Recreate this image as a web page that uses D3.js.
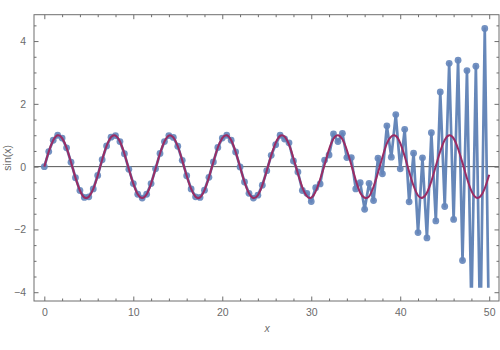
<!DOCTYPE html>
<html>
<head>
<meta charset="utf-8">
<script src="https://cdn.jsdelivr.net/npm/d3@7"></script>
<style>
  html, body { margin: 0; padding: 0; background: #fff; }
  svg { display: block; }
  .tick text { font-family: "Liberation Sans", Arial, sans-serif; font-size: 10.5px; fill: #6b6b6b; }
</style>
</head>
<body>
<svg id="chart" width="500" height="350"></svg>
<script>
// x positions of samples (step 0.5 from 0 to 50)
const xs = [0,0.5,1,1.5,2,2.5,3,3.5,4,4.5,5,5.5,6,6.5,7,7.5,8,8.5,9,9.5,
  10,10.5,11,11.5,12,12.5,13,13.5,14,14.5,15,15.5,16,16.5,17,17.5,18,18.5,19,19.5,
  20,20.5,21,21.5,22,22.5,23,23.5,24,24.5,25,25.5,26,26.5,27,27.5,28,28.5,29,29.5,
  30,30.5,31,31.5,32,32.5,33,33.5,34,34.5,35,35.5,36,36.5,37,37.5,38,38.5,39,39.5,
  40,40.5,41,41.5,42,42.5,43,43.5,44,44.5,45,45.5,46,46.5,47,47.5,48,48.5,49,49.5,50];

const sampled = [0.00,0.48,0.84,1.00,0.91,0.60,0.14,-0.35,-0.76,-0.98,
  -0.96,-0.71,-0.28,0.22,0.66,0.94,0.99,0.80,0.41,-0.08,
  -0.54,-0.88,-1.00,-0.88,-0.54,-0.07,0.42,0.80,0.99,0.93,
  0.65,0.20,-0.29,-0.71,-0.96,-0.98,-0.75,-0.34,0.15,0.61,
  0.91,1.00,0.84,0.47,-0.01,-0.49,-0.85,-1.00,-0.91,-0.59,
  -0.13,0.36,0.70,1.00,0.88,0.76,0.18,-0.17,-0.76,-0.85,
  -1.11,-0.67,-0.55,0.21,0.37,1.04,0.80,1.06,0.29,0.29,
  -0.71,-0.51,-1.36,-0.53,-1.08,0.27,-0.23,1.30,0.30,1.66,
  -0.07,1.19,-1.12,0.43,-2.10,0.28,-2.27,1.08,-1.73,2.38,
  -1.27,3.29,-1.68,3.39,-2.99,3.06,-4.6,3.20,-5.6,4.40,-5.9];

// purple reference curve sin(x), values read at the same x positions
const exact = [0.00,0.48,0.84,1.00,0.91,0.60,0.14,-0.35,-0.76,-0.98,
  -0.96,-0.71,-0.28,0.22,0.66,0.94,0.99,0.80,0.41,-0.08,
  -0.54,-0.88,-1.00,-0.88,-0.54,-0.07,0.42,0.80,0.99,0.93,
  0.65,0.20,-0.29,-0.71,-0.96,-0.98,-0.75,-0.34,0.15,0.61,
  0.91,1.00,0.84,0.47,-0.01,-0.49,-0.85,-1.00,-0.91,-0.59,
  -0.13,0.36,0.76,0.98,0.96,0.70,0.27,-0.22,-0.66,-0.94,
  -0.99,-0.79,-0.40,0.06,0.55,0.89,1.00,0.87,0.53,0.06,
  -0.43,-0.83,-0.99,-0.95,-0.64,-0.19,0.30,0.74,0.96,0.98,
  0.75,0.33,-0.16,-0.61,-0.92,-0.99,-0.83,-0.46,0.02,0.49,
  0.85,1.00,0.90,0.57,0.12,-0.37,-0.77,-0.98,-0.95,-0.69,-0.26];

const xTicks = [0,10,20,30,40,50];
const yTicks = [-4,-2,0,2,4];
const xLabel = "x";
const yLabel = "sin(x)";

const svg = d3.select("#chart");
const L = 34, R = 499, T = 14.7, B = 301;
const x = d3.scaleLinear().domain([-1.16, 51.1]).range([L, R]);
const y = d3.scaleLinear().domain([-4.28, 4.84]).range([B, T]);
const frameColor = "#6e6e6e";

const fmt = d => (d < 0 ? "\u2212" + Math.abs(d) : String(d));

// clip
svg.append("defs").append("clipPath").attr("id", "clip")
  .append("rect").attr("x", L).attr("y", T).attr("width", R - L).attr("height", y(-3.86) - T);

// zero axis line
svg.append("line").attr("x1", L).attr("x2", R).attr("y1", y(0)).attr("y2", y(0))
  .attr("stroke", "#555").attr("stroke-width", 1);

const data = xs.map((v, i) => ({ x: v, s: sampled[i], e: exact[i] }));

const g = svg.append("g").attr("clip-path", "url(#clip)");
g.append("path").datum(data)
  .attr("fill", "none").attr("stroke", "#5E81B5").attr("stroke-width", 2.7)
  .attr("stroke-linejoin", "round").attr("opacity", 0.95)
  .attr("d", d3.line().x(d => x(d.x)).y(d => y(d.s)));
g.selectAll("circle").data(data).join("circle")
  .attr("cx", d => x(d.x)).attr("cy", d => y(d.s)).attr("r", 3.4)
  .attr("fill", "#6485BA").attr("opacity", 0.9);
g.append("path").datum(data)
  .attr("fill", "none").attr("stroke", "#9A2C64").attr("stroke-width", 2)
  .attr("d", d3.line().curve(d3.curveNatural).x(d => x(d.x)).y(d => y(d.e)));

// axes
function styleAxis(sel) {
  sel.select(".domain").remove();
  sel.selectAll(".tick line").attr("stroke", frameColor);
}
const minorX = d3.range(0, 51, 2).filter(v => v % 10 !== 0);
const minorY = d3.range(-4, 4.75, 0.5).filter(v => v % 2 !== 0);

svg.append("g").attr("transform", `translate(0,${B})`)
  .call(d3.axisBottom(x).tickValues(xTicks).tickFormat(fmt).tickSizeInner(-4.5).tickPadding(8))
  .call(styleAxis);
svg.append("g").attr("transform", `translate(0,${B})`)
  .call(d3.axisBottom(x).tickValues(minorX).tickFormat("").tickSizeInner(-2.5))
  .call(styleAxis);
svg.append("g").attr("transform", `translate(0,${T})`)
  .call(d3.axisTop(x).tickValues(xTicks).tickFormat("").tickSizeInner(-4.5))
  .call(styleAxis);
svg.append("g").attr("transform", `translate(0,${T})`)
  .call(d3.axisTop(x).tickValues(minorX).tickFormat("").tickSizeInner(-2.5))
  .call(styleAxis);

svg.append("g").attr("transform", `translate(${L},0)`)
  .call(d3.axisLeft(y).tickValues(yTicks).tickFormat(fmt).tickSizeInner(-4.5).tickPadding(8))
  .call(styleAxis);
svg.append("g").attr("transform", `translate(${L},0)`)
  .call(d3.axisLeft(y).tickValues(minorY).tickFormat("").tickSizeInner(-2.5))
  .call(styleAxis);
svg.append("g").attr("transform", `translate(${R},0)`)
  .call(d3.axisRight(y).tickValues(yTicks).tickFormat("").tickSizeInner(-4.5))
  .call(styleAxis);
svg.append("g").attr("transform", `translate(${R},0)`)
  .call(d3.axisRight(y).tickValues(minorY).tickFormat("").tickSizeInner(-2.5))
  .call(styleAxis);

// frame
svg.append("rect").attr("x", L).attr("y", T).attr("width", R - L).attr("height", B - T)
  .attr("fill", "none").attr("stroke", frameColor).attr("stroke-width", 1);

// labels
svg.append("text").attr("x", (L + R) / 2 + 0.5).attr("y", 332)
  .attr("text-anchor", "middle").attr("font-family", "Liberation Sans, Arial, sans-serif")
  .attr("font-style", "italic").attr("font-size", 10.5).attr("fill", "#6b6b6b").text(xLabel);
svg.append("text").attr("transform", `translate(11,${(T + B) / 2}) rotate(-90)`)
  .attr("text-anchor", "middle").attr("font-family", "Liberation Sans, Arial, sans-serif")
  .attr("font-size", 10.5).attr("fill", "#6b6b6b").text(yLabel);
</script>
</body>
</html>
